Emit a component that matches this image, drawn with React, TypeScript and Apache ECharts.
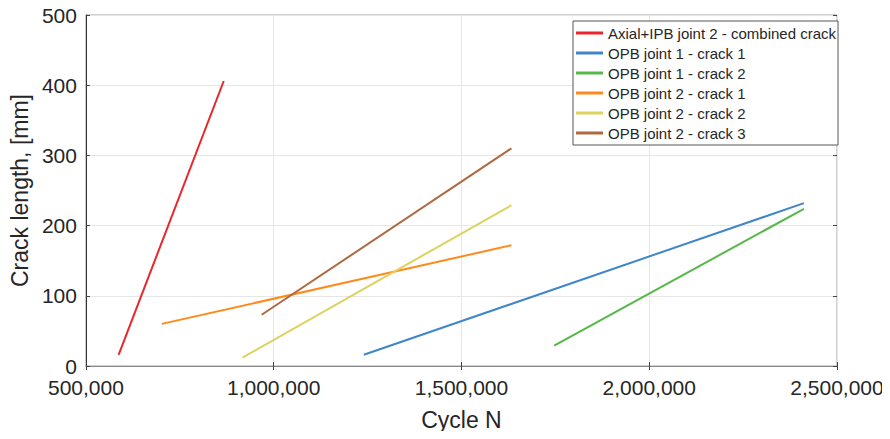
import React, { useEffect, useRef } from "react";
import * as echarts from "echarts";

const seriesNames = [
  "Axial+IPB joint 2 - combined crack",
  "OPB joint 1 - crack 1",
  "OPB joint 1 - crack 2",
  "OPB joint 2 - crack 1",
  "OPB joint 2 - crack 2",
  "OPB joint 2 - crack 3",
];
const seriesColors = ["#e8262b", "#3f86c8", "#56b848", "#ff8a1c", "#dcd25e", "#b0693f"];

const axialJ2Combined: [number, number][] = [[587000, 16], [867000, 406]];
const opbJ1Crack1: [number, number][] = [[1240000, 16], [2412000, 232]];
const opbJ1Crack2: [number, number][] = [[1747000, 29], [2412000, 224]];
const opbJ2Crack1: [number, number][] = [[702000, 60], [1633000, 172]];
const opbJ2Crack2: [number, number][] = [[917000, 12], [1633000, 229]];
const opbJ2Crack3: [number, number][] = [[968000, 73], [1633000, 310]];

const allData = [axialJ2Combined, opbJ1Crack1, opbJ1Crack2, opbJ2Crack1, opbJ2Crack2, opbJ2Crack3];

const xMin = 500000;
const xMax = 2500000;
const xStep = 500000;
const yMin = 0;
const yMax = 500;
const yStep = 100;

const FONT = "'Liberation Sans', Arial, sans-serif";

export default function App() {
  const ref = useRef<HTMLDivElement>(null);
  useEffect(() => {
    if (!ref.current) return;
    const chart = echarts.init(ref.current, undefined, { renderer: "svg" });
    const fmt = (v: number) => v.toLocaleString("en-US");
    chart.setOption({
      animation: false,
      backgroundColor: "#ffffff",
      grid: {
        left: 83,
        right: 53,
        top: 15,
        bottom: 73,
        show: true,
        borderColor: "#a0a0a0",
        borderWidth: 1,
      },
      legend: {
        orient: "vertical",
        left: 573,
        top: 21,
        padding: [4, 2, 4, 3],
        itemGap: 4,
        itemWidth: 27,
        itemHeight: 3,
        icon: "rect",
        backgroundColor: "#ffffff",
        borderColor: "#555555",
        borderWidth: 1,
        textStyle: { fontFamily: FONT, fontSize: 15, color: "#262626", lineHeight: 16 },
        data: seriesNames,
      },
      xAxis: [
        {
          type: "value",
          min: xMin,
          max: xMax,
          interval: xStep,
          name: "Cycle N",
          nameLocation: "middle",
          nameGap: 42,
          nameTextStyle: { fontFamily: FONT, fontSize: 23, color: "#262626" },
          axisLine: { show: true, lineStyle: { color: "#8a8a8a", width: 1 } },
          axisTick: { show: true, inside: true, length: 4, lineStyle: { color: "#444" } },
          axisLabel: {
            formatter: fmt,
            fontFamily: FONT,
            fontSize: 21,
            color: "#262626",
            margin: 11,
          },
          splitLine: { show: true, lineStyle: { color: "#e6e6e6", width: 1 } },
        },
        {
          type: "value",
          position: "top",
          min: xMin,
          max: xMax,
          interval: xStep,
          axisLine: { show: false },
          axisTick: { show: true, inside: true, length: 4, lineStyle: { color: "#444" } },
          axisLabel: { show: false },
          splitLine: { show: false },
        },
      ],
      yAxis: [
        {
          type: "value",
          min: yMin,
          max: yMax,
          interval: yStep,
          name: "Crack length, [mm]",
          nameLocation: "middle",
          nameGap: 48,
          nameRotate: 90,
          nameTextStyle: { fontFamily: FONT, fontSize: 23, color: "#262626" },
          axisLine: { show: true, lineStyle: { color: "#333333", width: 1 } },
          axisTick: { show: true, inside: true, length: 4, lineStyle: { color: "#444" } },
          axisLabel: { fontFamily: FONT, fontSize: 21, color: "#262626", margin: 9 },
          splitLine: { show: true, lineStyle: { color: "#e6e6e6", width: 1 } },
        },
        {
          type: "value",
          position: "right",
          min: yMin,
          max: yMax,
          interval: yStep,
          axisLine: { show: false },
          axisTick: { show: true, inside: true, length: 4, lineStyle: { color: "#444" } },
          axisLabel: { show: false },
          splitLine: { show: false },
        },
      ],
      series: seriesNames.map((name, i) => ({
        name,
        type: "line",
        data: allData[i],
        showSymbol: false,
        symbol: "none",
        color: seriesColors[i],
        lineStyle: { color: seriesColors[i], width: 2 },
        z: 3,
      })),
    });
    return () => chart.dispose();
  }, []);
  return <div ref={ref} style={{ width: 890, height: 439, margin: -8 }} />;
}
